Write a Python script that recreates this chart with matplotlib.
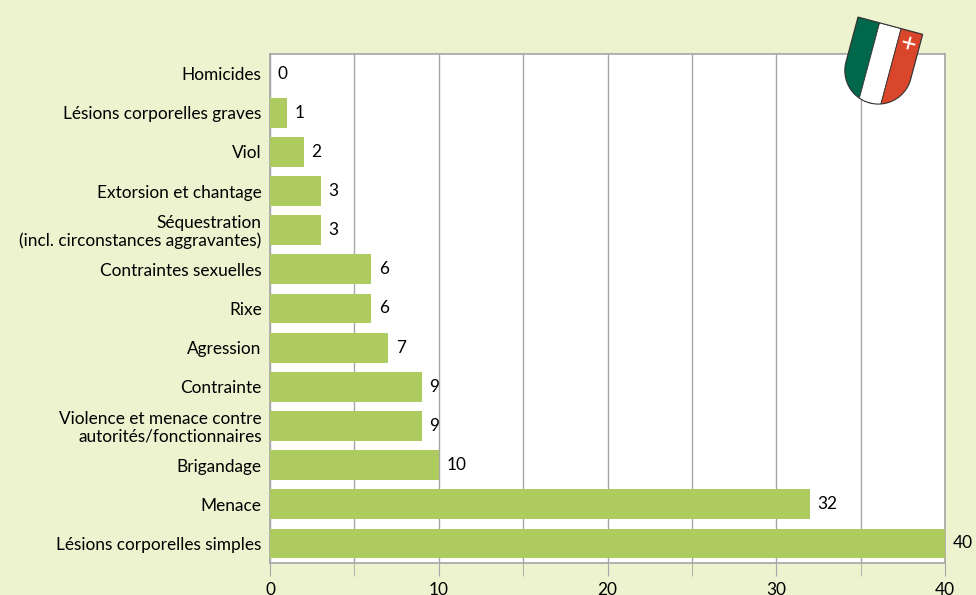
import numpy as np
import matplotlib.pyplot as plt
from matplotlib.patches import Polygon, Rectangle
from matplotlib.transforms import Affine2D

plt.rcParams['font.family'] = ['Lato', 'DejaVu Sans']

categories = ['Homicides', 'Lésions corporelles graves', 'Viol', 'Extorsion et chantage',
              'Séquestration\n(incl. circonstances aggravantes)', 'Contraintes sexuelles',
              'Rixe', 'Agression', 'Contrainte',
              'Violence et menace contre\nautorités/fonctionnaires', 'Brigandage',
              'Menace', 'Lésions corporelles simples']
values = [0, 1, 2, 3, 3, 6, 6, 7, 9, 9, 10, 32, 40]

bg = '#edf2cf'
bar_color = '#aecb5f'
grid_color = '#a6a6a6'
fs = 12.4

W, H = 976, 595
fig = plt.figure(figsize=(W / 100, H / 100), dpi=100, facecolor=bg)
ax = fig.add_axes([270 / W, 1 - 563 / H, 675 / W, 509 / H])
ax.set_facecolor('white')

y = np.arange(len(categories))
ax.barh(y, values, height=0.76, color=bar_color, zorder=3)
ax.set_ylim(len(categories) - 0.5, -0.5)
ax.set_xlim(0, 40)
ax.set_yticks(y)
ax.set_yticklabels(categories, fontsize=fs, linespacing=1.1)
ax.tick_params(axis='y', length=0, pad=6)

ax.set_xticks(np.arange(0, 41, 10))
ax.set_xticks(np.arange(5, 40, 10), minor=True)
ax.tick_params(axis='x', which='both', length=9, color=grid_color, labelsize=fs, pad=5)
ax.grid(axis='x', which='both', color=grid_color, linewidth=1, zorder=0)
for s in ax.spines.values():
    s.set_color(grid_color)
    s.set_linewidth(1.2)

for yi, v in zip(y, values):
    ax.text(v + 0.45, yi, str(v), va='center', ha='left', fontsize=fs, clip_on=False, zorder=4)

# Neuchâtel coat of arms
sw, sh = 67, 80
r = sw / 2
t = np.linspace(np.pi, 2 * np.pi, 40)
outline = [(0, 0), (0, -(sh - r))]
outline += [(r + r * np.cos(a), -(sh - r) + r * np.sin(a)) for a in t]
outline += [(sw, 0)]
tr = Affine2D().rotate_deg(-15).translate(858, H - 17).scale(1 / W, 1 / H) + fig.transFigure
shield = Polygon(outline, closed=True, facecolor='none', edgecolor='#333333', lw=0.8,
                 transform=tr, zorder=10)
stripes = [('#00684a', 0), ('white', sw / 3), ('#d9462b', 2 * sw / 3)]
for col, x0 in stripes:
    rect = Rectangle((x0, -sh), sw / 3, sh, facecolor=col, edgecolor='#333333', lw=0.6,
                     transform=tr, zorder=9)
    fig.add_artist(rect)
    rect.set_clip_path(shield)
fig.add_artist(shield)
cx, cy = 56, -12
for dx, dy in [(13, 2), (2, 13)]:
    fig.add_artist(Rectangle((cx - dx / 2, cy - dy / 2), dx, dy, facecolor='white',
                             edgecolor='none', transform=tr, zorder=11))

fig.savefig('out.png', dpi=100, facecolor=bg)
